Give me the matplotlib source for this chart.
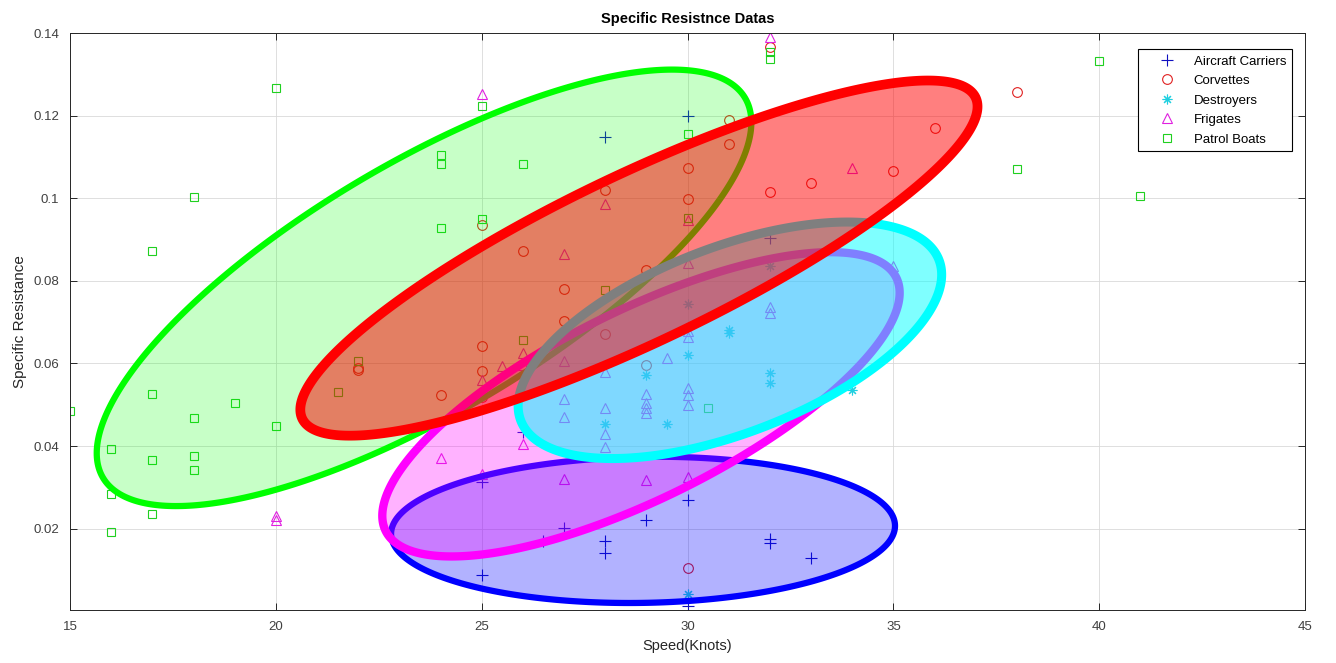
import numpy as np
import matplotlib
matplotlib.use("Agg")
import matplotlib.pyplot as plt
from matplotlib.patches import Polygon

# ---------------- data ----------------
carrier_x = [25, 25, 26, 26.5, 27, 28, 28, 28, 29, 30, 30, 30, 32, 32, 32, 33]
carrier_y = [0.0088, 0.0313, 0.0433, 0.0170, 0.0201, 0.1148, 0.0170, 0.0141,
             0.0221, 0.1200, 0.0270, 0.0013, 0.0904, 0.0174, 0.0165, 0.0129]

corvette_x = [22, 22, 24, 25, 25, 25, 25, 26, 27, 27, 28, 28, 29, 29, 30, 30,
              30, 31, 31, 32, 32, 33, 35, 36, 38]
corvette_y = [0.0589, 0.0584, 0.0524, 0.0936, 0.0642, 0.0582, 0.0518, 0.0871,
              0.0781, 0.0702, 0.1020, 0.0672, 0.0595, 0.0826, 0.1074, 0.0997,
              0.0105, 0.1189, 0.1131, 0.1367, 0.1015, 0.1037, 0.1067, 0.1171,
              0.1258]

destroyer_x = [28, 29, 29.5, 30, 30, 30, 31, 31, 32, 32, 32, 34]
destroyer_y = [0.0453, 0.0571, 0.0453, 0.0620, 0.0743, 0.0041, 0.0682, 0.0674,
               0.0577, 0.0552, 0.0836, 0.0536]

frigate_x = [20, 20, 24, 25, 25, 25, 25.5, 26, 26, 26, 27, 27, 27, 27, 27,
             28, 28, 28, 28, 28, 29, 29, 29, 29, 29, 29.5, 30, 30, 30, 30,
             30, 30, 30, 30, 32, 32, 32, 34, 35]
frigate_y = [0.0230, 0.0222, 0.0370, 0.1252, 0.0561, 0.0333, 0.0593, 0.0625,
             0.0597, 0.0404, 0.0866, 0.0607, 0.0514, 0.0470, 0.0319, 0.0986,
             0.0580, 0.0493, 0.0428, 0.0398, 0.0526, 0.0503, 0.0492, 0.0481,
             0.0317, 0.0612, 0.0947, 0.0844, 0.0678, 0.0664, 0.0540, 0.0524,
             0.0500, 0.0325, 0.1390, 0.0736, 0.0723, 0.1072, 0.0836]

patrol_x = [15, 16, 16, 16, 17, 17, 17, 17, 18, 18, 18, 18, 19, 20, 20, 21.5,
            22, 24, 24, 24, 25, 25, 26, 26, 28, 30, 30, 30.5, 32, 32, 38, 40, 41]
patrol_y = [0.0485, 0.0392, 0.0285, 0.0192, 0.0873, 0.0526, 0.0366, 0.0236,
            0.1004, 0.0468, 0.0377, 0.0343, 0.0505, 0.1266, 0.0448, 0.0530,
            0.0607, 0.1104, 0.1084, 0.0929, 0.1223, 0.0950, 0.1084, 0.0656,
            0.0777, 0.1155, 0.0952, 0.0491, 0.1355, 0.1337, 0.1070, 0.1331,
            0.1005]

# ellipse centres (data units)
ell_cx = {"green": 23.6, "red": 28.82, "cyan": 31.03, "magenta": 28.87, "blue": 28.92}
ell_cy = {"green": 0.0783, "red": 0.0855, "cyan": 0.0656, "magenta": 0.0501, "blue": 0.0197}

# ---------------- style ----------------
ell_a = {"green": 373, "red": 373, "cyan": 224, "magenta": 285, "blue": 252}   # px
ell_b = {"green": 125, "red": 84, "cyan": 93, "magenta": 94, "blue": 73}      # px
ell_ang = {"green": 30.6, "red": 25.5, "cyan": 21, "magenta": 26.4, "blue": 1}
ell_col = {"green": (0, 1, 0), "red": (1, 0, 0), "cyan": (0, 1, 1),
           "magenta": (1, 0, 1), "blue": (0, 0, 1)}
ell_alpha = {"green": 0.22, "red": 0.5, "cyan": 0.5, "magenta": 0.3, "blue": 0.3}
ell_lw = {"green": 4.5, "red": 7, "cyan": 6.5, "magenta": 6, "blue": 4.5}
ell_order = ["blue", "green", "magenta", "cyan", "red"]

W, H, DPI = 1336, 663, 100
fig = plt.figure(figsize=(W / DPI, H / DPI), dpi=DPI)
ax = fig.add_axes([70 / W, 1 - 610 / H, 1235 / W, 577 / H])
ax.set_xlim(15, 45)
ax.set_ylim(0.0003, 0.14)

ms = 7
mew = 0.8
ax.plot(carrier_x, carrier_y, linestyle="none", marker="+", color="#1010c0",
        ms=ms + 1, mew=mew, label="Aircraft Carriers", zorder=2)
ax.plot(corvette_x, corvette_y, linestyle="none", marker="o", mfc="none",
        color="#e02020", ms=ms, mew=mew, label="Corvettes", zorder=2)
ax.plot(destroyer_x, destroyer_y, linestyle="none", marker=(8, 2, 0), mfc="none",
        color="#20d0e0", ms=ms, mew=mew, label="Destroyers", zorder=2)
ax.plot(frigate_x, frigate_y, linestyle="none", marker="^", mfc="none",
        color="#e020e0", ms=ms, mew=mew, label="Frigates", zorder=2)
ax.plot(patrol_x, patrol_y, linestyle="none", marker="s", mfc="none",
        color="#20d020", ms=ms - 1, mew=mew, label="Patrol Boats", zorder=2)

fig.canvas.draw()
tr = ax.transData
inv = tr.inverted()
t = np.linspace(0, 2 * np.pi, 400)
for i, k in enumerate(ell_order):
    cpx = tr.transform((ell_cx[k], ell_cy[k]))
    th = np.deg2rad(ell_ang[k])
    ex = ell_a[k] * np.cos(t)
    ey = ell_b[k] * np.sin(t)
    px = cpx[0] + ex * np.cos(th) - ey * np.sin(th)
    py = cpx[1] + ex * np.sin(th) + ey * np.cos(th)
    pts = inv.transform(np.column_stack([px, py]))
    col = ell_col[k]
    ax.add_patch(Polygon(pts, closed=True, facecolor=col + (ell_alpha[k],),
                         edgecolor="none", zorder=3 + 2 * i))
    ax.add_patch(Polygon(pts, closed=True, facecolor="none", edgecolor=col,
                         lw=ell_lw[k], joinstyle="round", zorder=3 + 2 * i))

ax.set_xticks([15, 20, 25, 30, 35, 40, 45])
ax.set_yticks([0.02, 0.04, 0.06, 0.08, 0.1, 0.12, 0.14])
ax.set_yticklabels(["0.02", "0.04", "0.06", "0.08", "0.1", "0.12", "0.14"])
ax.grid(True, color="#d9d9d9", linewidth=0.6, zorder=0)
ax.set_axisbelow(True)
ax.tick_params(direction="in", top=True, right=True, length=5, width=0.7,
               labelsize=9.5, colors="#262626", pad=8)
for lab in ax.get_xticklabels() + ax.get_yticklabels():
    lab.set_family(["Liberation Sans Narrow", "Liberation Sans", "DejaVu Sans"])
    lab.set_color("#404040")
for s in ax.spines.values():
    s.set_color("#262626")
    s.set_linewidth(0.7)

ax.set_title("Specific Resistnce Datas", fontsize=10.5, fontweight="bold",
             family=["Liberation Sans", "DejaVu Sans"], pad=7)
ax.set_xlabel("Speed(Knots)", fontsize=10.5, color="#262626",
              family=["Liberation Sans Narrow", "Liberation Sans", "DejaVu Sans"])
ax.set_ylabel("Specific Resistance", fontsize=11, color="#262626",
              family=["Liberation Sans", "DejaVu Sans"])

leg = ax.legend(loc="upper right", bbox_to_anchor=(0.995, 0.983), fancybox=False,
                edgecolor="black", framealpha=1, borderpad=0.45,
                labelspacing=0.55, handletextpad=0.2, handlelength=3.6,
                prop={"family": ["Liberation Sans", "DejaVu Sans"], "size": 9.5})
leg.get_frame().set_linewidth(0.8)
leg.set_zorder(20)

fig.savefig("out.png", dpi=DPI)
